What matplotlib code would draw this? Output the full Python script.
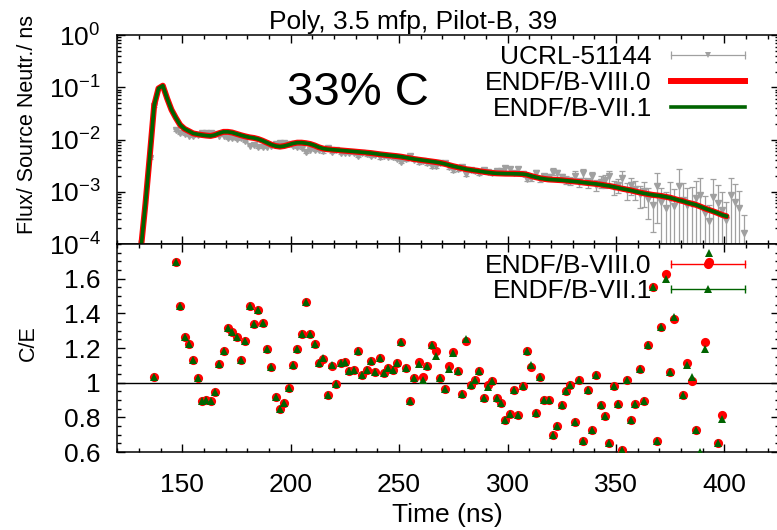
"""Poly 3.5 mfp pulsed-sphere benchmark: flux vs time and C/E."""

import numpy as np
import matplotlib

matplotlib.use("Agg")
import matplotlib.pyplot as plt
from matplotlib.lines import Line2D
from matplotlib.ticker import (FixedLocator, FuncFormatter, LogLocator,
                               MultipleLocator, NullFormatter)

plt.rcParams["font.family"] = ["Liberation Sans", "DejaVu Sans"]
plt.rcParams["mathtext.fontset"] = "custom"
plt.rcParams["mathtext.rm"] = "Liberation Sans"
plt.rcParams["mathtext.default"] = "regular"
plt.rcParams["axes.unicode_minus"] = False

RED = "#ff0000"
GREEN = "#006400"
GRAY = "#a0a0a0"

nan = np.nan

# ---- calculated flux (ENDF/B-VIII.0 and VII.1 overlap), 2 ns bins 131..401
calc_t = np.arange(131, 402, 2)
flux_viii = [
    9e-5, 6e-4, 5.0e-3, 0.045, 0.095, 0.107, 0.061, 0.037, 0.026, 0.019,
    0.016, 0.0145, 0.0131, 0.0126, 0.0122, 0.0119, 0.0117, 0.0122, 0.0132, 0.0140,
    0.0140, 0.0136, 0.0128, 0.0121, 0.0115, 0.0110, 0.0107, 0.0102, 0.0095, 0.0087,
    0.0080, 0.0075, 0.0073, 0.0075, 0.0079, 0.0084, 0.0087, 0.0087, 0.0085, 0.0082,
    0.0077, 0.0071, 0.0067, 0.0065, 0.0064, 0.0063, 0.0062, 0.0061, 0.0060, 0.0059,
    0.0058, 0.0057, 0.0056, 0.0055, 0.00535, 0.00522, 0.00510, 0.00500, 0.00490, 0.00480,
    0.00468, 0.00452, 0.00436, 0.00422, 0.00410, 0.00400, 0.00390, 0.00380, 0.00370, 0.00358,
    0.00342, 0.00324, 0.00308, 0.00295, 0.00282, 0.00270, 0.00262, 0.00255, 0.00248, 0.00240,
    0.00234, 0.00229, 0.00225, 0.00223, 0.00222, 0.00222, 0.00221, 0.00220, 0.00218, 0.00212,
    0.00200, 0.00190, 0.00182, 0.00176, 0.00172, 0.00170, 0.00168, 0.00166, 0.00163, 0.00160,
    0.00157, 0.00154, 0.00150, 0.00147, 0.00144, 0.00141, 0.00137, 0.00133, 0.00129, 0.00124,
    0.00119, 0.00114, 0.00110, 0.00106, 0.00101, 0.00097, 0.00093, 0.00090, 0.00087, 0.00085,
    0.00083, 0.00080, 0.00077, 0.00073, 0.00069, 0.00066, 0.00062, 0.00059, 0.00056, 0.00052,
    0.00048, 0.00045, 0.00042, 0.00039, 0.00036, 0.00034,
]
flux_vii = list(flux_viii)  # indistinguishable at this scale

# ---- UCRL-51144 measurement, 2 ns bins 135..409 (nan = no point)
exp_t = np.arange(135, 410, 2)
exp_flux = [
    0.0045, 0.0435, nan, nan, nan, nan, 0.0153, 0.0132, 0.0127, 0.0118,
    0.0116, 0.0122, 0.0136, 0.0132, 0.0131, 0.0129, 0.0119, 0.0119, 0.0106, 0.0105,
    0.0101, 0.0107, 0.00925, 0.00764, 0.00799, 0.0072, 0.00707, 0.00729, 0.00735, 0.00815,
    0.00861, 0.00848, 0.00814, 0.00762, 0.00728, 0.00679, 0.00579, 0.00642, 0.00629, 0.00636,
    0.0059, 0.00702, 0.00584, 0.00635, 0.00556, 0.00544, 0.00562, 0.00551, 0.0049, 0.00545,
    0.00521, 0.00488, 0.00505, 0.00456, 0.00483, 0.00461, 0.00457, 0.0043, 0.00379, 0.00417,
    0.00488, 0.00412, 0.00365, 0.00388, 0.00356, 0.00313, 0.00314, 0.00349, 0.00356, 0.00295,
    0.00262, 0.00276, 0.00302, 0.00218, 0.00266, 0.00251, 0.00232, 0.00263, 0.00238, 0.00227,
    0.00247, 0.00253, 0.00282, 0.00272, 0.00231, 0.0027, 0.00223, 0.00179, 0.00183, 0.00231,
    0.00176, 0.00196, 0.00191, 0.00244, 0.00225, 0.0019, 0.00171, 0.00162, 0.00204, 0.00152,
    0.00226, 0.00153, 0.00198, 0.00135, 0.00157, 0.00165, 0.00198, 0.00126, 0.00136, 0.00186,
    0.00108, 0.00135, 0.00115, 0.0009, 0.00104, 0.00074, 0.00056, 0.00128, 0.00063, 0.00049,
    0.00072, 0.00053, 0.0013, 0.00071, 0.00056, 0.00059, 0.00077, 0.00087, 0.00039, 0.00027,
    0.0008, 0.0006, 0.00044, 0.00029, 0.00085, 0.00065, 0.00048, 0.00016,
]
# relative 1-sigma uncertainty of each measured point
exp_relerr = [
    0.05, 0.04, 0.03, 0.03, 0.03, 0.03, 0.03, 0.03, 0.03, 0.03,
    0.03, 0.03, 0.03, 0.03, 0.03, 0.03, 0.03, 0.03, 0.03, 0.03,
    0.03, 0.03, 0.03, 0.03, 0.03, 0.03, 0.03, 0.03, 0.03, 0.03,
    0.04, 0.04, 0.04, 0.04, 0.04, 0.04, 0.04, 0.04, 0.04, 0.04,
    0.05, 0.05, 0.05, 0.05, 0.05, 0.05, 0.05, 0.05, 0.05, 0.05,
    0.06, 0.06, 0.06, 0.06, 0.06, 0.06, 0.06, 0.06, 0.06, 0.06,
    0.07, 0.07, 0.08, 0.08, 0.08, 0.08, 0.08, 0.08, 0.08, 0.08,
    0.09, 0.09, 0.09, 0.09, 0.09, 0.09, 0.09, 0.09, 0.09, 0.09,
    0.10, 0.10, 0.10, 0.10, 0.10, 0.12, 0.12, 0.12, 0.12, 0.12,
    0.14, 0.14, 0.15, 0.15, 0.16, 0.16, 0.18, 0.18, 0.20, 0.20,
    0.20, 0.22, 0.22, 0.25, 0.25, 0.28, 0.28, 0.30, 0.30, 0.32,
    0.35, 0.35, 0.40, 0.45, 0.50, 0.60, 0.70, 0.80, 0.90, 1.00,
    1.10, 1.10, 1.10, 1.10, 1.10, 1.10, 1.10, 1.10, 1.10, 1.10,
    1.20, 1.20, 1.20, 1.20, 1.20, 1.20, 1.20, 1.20,
]

# ---- C/E, 2 ns bins 137..399 (nan = no point / off scale)
ce_t = np.arange(137, 400, 2)
ce_viii = [
    1.035, nan, nan, nan, nan, 1.698, 1.443, 1.265, 1.224, 1.131,
    1.029, 0.896, 0.900, 0.892, 0.944, 1.108, 1.180, 1.317, 1.290, 1.263,
    1.131, 1.243, 1.440, 1.340, 1.417, 1.344, 1.193, 1.089, 0.920, 0.848,
    0.884, 0.970, 1.103, 1.195, 1.282, 1.467, 1.278, 1.225, 1.116, 1.135,
    0.926, 1.095, 0.992, 1.115, 1.122, 1.067, 1.071, 1.184, 1.045, 1.074,
    1.127, 1.060, 1.144, 1.057, 1.085, 1.072, 1.115, 1.236, 1.085, 0.893,
    1.025, 1.122, 1.032, 1.095, 1.215, 1.180, 1.026, 0.961, 1.097, 1.175,
    1.067, 0.935, 1.240, 0.985, 1.015, 1.070, 0.912, 0.985, 1.008, 0.912,
    0.880, 0.787, 0.817, 0.957, 0.814, 0.979, 1.183, 1.090, 0.824, 1.035,
    0.899, 0.899, 0.697, 0.748, 0.872, 0.953, 0.987, 0.771, 1.015, 0.665,
    0.960, 0.727, 1.042, 0.872, 0.808, 0.650, 0.981, 0.875, 0.614, 1.016,
    0.785, 0.877, 1.077, 0.892, 1.216, 1.554, 0.665, 1.322, 1.629, 1.063,
    1.370, nan, 0.926, 1.111, 1.008, 0.727, 0.570, 1.237, 1.698, nan,
    0.651, 0.815,
]
ce_vii = [
    1.035, nan, nan, nan, nan, 1.698, 1.443, 1.265, 1.224, 1.131,
    1.029, 0.896, 0.900, 0.892, 0.944, 1.108, 1.180, 1.317, 1.290, 1.263,
    1.131, 1.243, 1.440, 1.340, 1.417, 1.344, 1.193, 1.089, 0.920, 0.848,
    0.884, 0.970, 1.103, 1.195, 1.282, 1.467, 1.278, 1.225, 1.116, 1.140,
    0.926, 1.100, 0.992, 1.115, 1.122, 1.067, 1.071, 1.184, 1.045, 1.074,
    1.127, 1.060, 1.144, 1.057, 1.085, 1.072, 1.115, 1.236, 1.085, 0.893,
    1.025, 1.110, 1.015, 1.095, 1.220, 1.153, 1.026, 0.961, 1.080, 1.170,
    1.067, 0.935, 1.250, 0.985, 1.015, 1.070, 0.912, 0.975, 1.008, 0.912,
    0.880, 0.787, 0.817, 0.957, 0.814, 0.979, 1.183, 1.100, 0.824, 1.035,
    0.899, 0.899, 0.697, 0.748, 0.872, 0.953, 0.987, 0.771, 1.015, 0.665,
    0.960, 0.727, 1.042, 0.872, 0.808, 0.650, 0.981, 0.875, 0.614, 1.016,
    0.785, 0.877, 1.077, 0.892, 1.216, 1.554, 0.665, 1.322, 1.600, 1.063,
    1.380, nan, 0.926, 1.100, 1.032, 0.727, 0.600, 1.196, 1.746, nan,
    0.651, 0.790,
]

xticks_major = [150, 200, 250, 300, 350, 400]
ce_ticks = [0.6, 0.8, 1.0, 1.2, 1.4, 1.6]

# ---- layout in pixels of a 777x530 canvas
W, H = 777, 530
FS = 19


def fx(x):
    return x / W


def fy(y):
    return 1 - y / H


fig = plt.figure(figsize=(W / 100, H / 100), dpi=100)
ax1 = fig.add_axes([fx(117.3), fy(244), 661.2 / W, 209 / H])
ax2 = fig.add_axes([fx(117.3), fy(452), 661.2 / W, 208 / H])

# top panel
exp_flux_a = np.asarray(exp_flux)
err = exp_flux_a * np.asarray(exp_relerr)
lower = np.minimum(err, exp_flux_a * 0.9999)
ax1.errorbar(exp_t, exp_flux_a, yerr=[lower, err], fmt="v", color=GRAY,
             ms=4, lw=0.9, capsize=2.5, capthick=0.9, zorder=2)
ax1.plot(calc_t, flux_viii, color=RED, lw=4.3, solid_joinstyle="round",
         solid_capstyle="round", zorder=3)
ax1.plot(calc_t, flux_vii, color=GREEN, lw=2.6, solid_joinstyle="round",
         zorder=4)
ax1.set_yscale("log")
ax1.set_ylim(1e-4, 1)
ax1.yaxis.set_major_locator(LogLocator(base=10, numticks=10))
ax1.yaxis.set_minor_locator(LogLocator(base=10, subs=np.arange(2, 10), numticks=10))
ax1.yaxis.set_minor_formatter(NullFormatter())

# bottom panel
ax2.axhline(1.0, color="black", lw=1.0, zorder=1)
ax2.plot(ce_t, ce_viii, "o", color=RED, ms=6.6, mew=0, zorder=3)
ax2.plot(ce_t, ce_vii, "^", color=GREEN, ms=5.6, mew=0, zorder=4)
ax2.set_ylim(0.6, 1.8)
ax2.yaxis.set_major_locator(FixedLocator(ce_ticks))
ax2.yaxis.set_minor_locator(MultipleLocator(0.05))
ax2.yaxis.set_major_formatter(FuncFormatter(lambda v, p: f"{v:g}"))

for ax in (ax1, ax2):
    ax.set_xlim(120, 425)
    ax.xaxis.set_major_locator(FixedLocator(xticks_major))
    ax.xaxis.set_minor_locator(MultipleLocator(10))
    ax.tick_params(which="both", direction="in", top=True, right=True,
                   width=1.0, labelsize=FS)
    ax.tick_params(which="major", length=5.5)
    ax.tick_params(which="minor", length=2.8)
    ax.tick_params(axis="y", pad=12)
    ax.tick_params(axis="x", pad=15)
    for s in ax.spines.values():
        s.set_linewidth(1.1)
ax1.tick_params(labelbottom=False)

# texts
fig.text(fx(413), fy(29), "Poly, 3.5 mfp, Pilot-B, 39", ha="center",
         va="baseline", fontsize=FS)
fig.text(fx(358), fy(105), "33% C", ha="center", va="baseline", fontsize=34)
fig.text(fx(447), fy(515), "Time (ns)", ha="center", va="center", fontsize=FS)
fig.text(fx(28), fy(124), "Flux/ Source Neutr./ ns", ha="center", va="center",
         rotation=90, fontsize=15.5)
fig.text(fx(28), fy(343), "C/E", ha="center", va="center", rotation=90,
         fontsize=15.5)

# legends drawn gnuplot style: right-aligned label, sample on the right
LX0, LX1, LXT = 671, 745, 651.7


def legend_row(y, label, color, lw, marker=None, ms=0, caps=False):
    fig.text(fx(LXT), fy(y + 9.5), label, ha="right", va="baseline", fontsize=FS)
    fig.add_artist(Line2D([fx(LX0), fx(LX1)], [fy(y), fy(y)], color=color,
                          lw=lw, transform=fig.transFigure))
    if caps:
        fig.add_artist(Line2D([fx(LX0), fx(LX1)], [fy(y), fy(y)], ls="none",
                              marker="|", ms=6, mew=lw, color=color,
                              transform=fig.transFigure))
    if marker:
        fig.add_artist(Line2D([fx((LX0 + LX1) / 2)], [fy(y)], ls="none",
                              marker=marker, ms=ms, mew=0, color=color,
                              transform=fig.transFigure))


legend_row(55, "UCRL-51144", GRAY, 0.9, marker="v", ms=4, caps=True)
legend_row(81, "ENDF/B-VIII.0", RED, 4.3)
legend_row(107, "ENDF/B-VII.1", GREEN, 2.6)
legend_row(263.5, "ENDF/B-VIII.0", RED, 1.0, marker="o", ms=6.6, caps=True)
legend_row(289, "ENDF/B-VII.1", GREEN, 1.0, marker="^", ms=5.6, caps=True)

fig.savefig("out.png", dpi=100)
plt.close(fig)
